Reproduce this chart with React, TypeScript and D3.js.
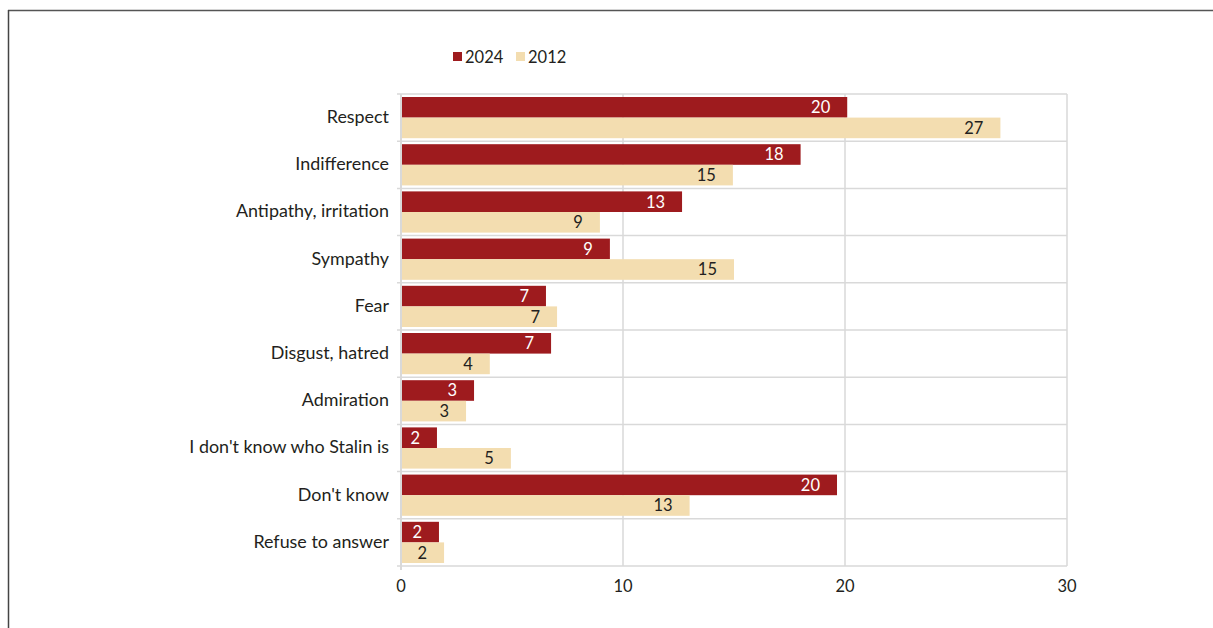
import React from "react";
import * as d3 from "d3";

const categories = [
  "Respect",
  "Indifference",
  "Antipathy, irritation",
  "Sympathy",
  "Fear",
  "Disgust, hatred",
  "Admiration",
  "I don't know who Stalin is",
  "Don't know",
  "Refuse to answer",
];
const values2024 = [20.1, 18.0, 12.66, 9.41, 6.53, 6.76, 3.29, 1.62, 19.64, 1.71];
const values2012 = [27.0, 14.95, 8.96, 15.0, 7.03, 4.0, 2.93, 4.95, 13.0, 1.94];
const labels2024 = ["20", "18", "13", "9", "7", "7", "3", "2", "20", "2"];
const labels2012 = ["27", "15", "9", "15", "7", "4", "3", "5", "13", "2"];
const xTicks = [0, 10, 20, 30];
const seriesNames = ["2024", "2012"];

const W = 1213;
const H = 628;
const FONT = "Lato, 'Noto Sans', sans-serif";
const RED = "#9E1B1E";
const BEIGE = "#F3DDB0";
const GRID = "#d9d9d9";

export default function App() {
  const x = d3.scaleLinear().domain([0, 30]).range([401, 1067]);
  const y = d3.scaleBand<string>().domain(categories).range([94, 566]);
  const bw = y.bandwidth();
  const pad = 3;
  const barH = (bw - 2 * pad) / 2;
  const boundaries = categories.map((c) => y(c) as number).concat([566]);

  return (
    <div style={{ position: "absolute", left: 0, top: 0 }}>
      <svg width={W} height={H} style={{ display: "block" }}>
        <rect x={0} y={0} width={W} height={H} fill="#fff" />
        {/* frame */}
        <line x1={8} y1={10.5} x2={W} y2={10.5} stroke="#555" strokeWidth={1.5} />
        <line x1={8.5} y1={10} x2={8.5} y2={H} stroke="#444" strokeWidth={1.5} />

        {/* gridlines */}
        {boundaries.map((b, i) => (
          <line key={"h" + i} x1={397} x2={1067} y1={b} y2={b} stroke={GRID} strokeWidth={1.5} />
        ))}
        {xTicks.slice(1).map((t) => (
          <line key={"v" + t} x1={x(t)} x2={x(t)} y1={94} y2={566} stroke={GRID} strokeWidth={1.5} />
        ))}
        <line x1={x(0)} x2={x(0)} y1={94} y2={570} stroke={GRID} strokeWidth={2} />

        {/* bars */}
        {categories.map((c, i) => {
          const y0 = (y(c) as number) + pad;
          return (
            <g key={c}>
              <rect x={x(0) + 1} y={y0} width={x(values2024[i]) - x(0) - 1} height={barH} fill={RED} />
              <rect x={x(0) + 1} y={y0 + barH} width={x(values2012[i]) - x(0) - 1} height={barH} fill={BEIGE} />
              <text
                x={x(values2024[i]) - 17}
                y={y0 + barH / 2}
                dy="0.36em"
                textAnchor="end"
                fontFamily={FONT}
                fontSize={16.5}
                fill="#fff"
              >
                {labels2024[i]}
              </text>
              <text
                x={x(values2012[i]) - 17}
                y={y0 + barH * 1.5}
                dy="0.36em"
                textAnchor="end"
                fontFamily={FONT}
                fontSize={16.5}
                fill="#231f20"
              >
                {labels2012[i]}
              </text>
              <text
                x={389}
                y={(y(c) as number) + bw / 2}
                dy="0.3em"
                textAnchor="end"
                fontFamily={FONT}
                fontSize={17.9}
                fill="#231f20"
              >
                {c}
              </text>
            </g>
          );
        })}

        {/* x tick labels */}
        {xTicks.map((t) => (
          <text
            key={"t" + t}
            x={x(t)}
            y={586}
            dy="0.35em"
            textAnchor="middle"
            fontFamily={FONT}
            fontSize={16.5}
            fill="#231f20"
          >
            {t}
          </text>
        ))}

        {/* legend */}
        <g>
          <rect x={453} y={52} width={9} height={9} fill={RED} />
          <text x={465} y={57} dy="0.35em" fontFamily={FONT} fontSize={16.5} fill="#231f20">
            {seriesNames[0]}
          </text>
          <rect x={516} y={52} width={9} height={9} fill={BEIGE} />
          <text x={528} y={57} dy="0.35em" fontFamily={FONT} fontSize={16.5} fill="#231f20">
            {seriesNames[1]}
          </text>
        </g>
      </svg>
    </div>
  );
}
